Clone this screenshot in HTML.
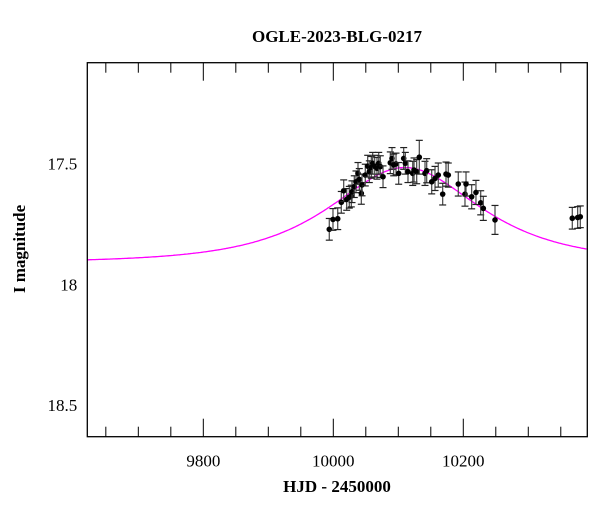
<!DOCTYPE html>
<html><head><meta charset="utf-8"><style>
body{margin:0;background:#fff}
svg{display:block}
text{font-family:"Liberation Serif",serif;fill:#000}
</style></head><body>
<svg id="chart" width="600" height="512" xmlns="http://www.w3.org/2000/svg">
<rect width="600" height="512" fill="#fff"/>
<text x="337" y="42" text-anchor="middle" font-size="17" font-weight="bold">OGLE-2023-BLG-0217</text>
<text x="337" y="492" text-anchor="middle" font-size="17" font-weight="bold">HJD - 2450000</text>
<text transform="translate(25,249) rotate(-90)" text-anchor="middle" font-size="17" font-weight="bold">I magnitude</text>
<g id="ticks"></g>
<g id="model"></g>
<g id="pts"></g>
<rect x="87.3" y="62.7" width="500" height="374" fill="none" stroke="#000" stroke-width="1.3"/>
</svg>
<script>
const hjd=[9993.8,9999.5,10006.8,10012.3,10016,10020.6,10024.6,10027.7,10028.8,10032.3,10034.9,10038,10040,10043.1,10044.2,10049.2,10052.9,10055.4,10058.5,10060.6,10063.7,10067.2,10069.9,10072.3,10076.5,10087.7,10090.3,10092.9,10096.5,10100.6,10108.3,10110.8,10114.9,10122.2,10124.2,10128.3,10132.3,10141.1,10143.7,10151.4,10156.5,10161.5,10168.3,10173.4,10176.9,10192.3,10202.6,10204.2,10212.9,10219.5,10226.8,10230.8,10248.8,10367.7,10376,10380];
const mag=[17.772,17.731,17.728,17.660,17.612,17.648,17.639,17.634,17.616,17.595,17.575,17.540,17.565,17.623,17.588,17.547,17.510,17.533,17.515,17.498,17.510,17.519,17.498,17.512,17.554,17.496,17.478,17.505,17.501,17.540,17.478,17.498,17.533,17.540,17.526,17.533,17.473,17.540,17.529,17.575,17.561,17.547,17.626,17.543,17.547,17.584,17.626,17.584,17.637,17.619,17.662,17.685,17.733,17.726,17.723,17.720];
const err=[0.045,0.045,0.045,0.045,0.045,0.045,0.045,0.045,0.045,0.045,0.045,0.045,0.045,0.045,0.045,0.045,0.045,0.045,0.045,0.045,0.045,0.045,0.045,0.045,0.045,0.045,0.045,0.045,0.045,0.045,0.045,0.045,0.045,0.05,0.05,0.05,0.07,0.05,0.05,0.05,0.05,0.05,0.045,0.05,0.05,0.05,0.05,0.05,0.05,0.05,0.05,0.05,0.06,0.045,0.045,0.045];
const modelT0=[10110];const modelU0=[0.885];const modelTE=[147.6];const modelBase=[17.91];
const xTicks=[9800,10000,10200];const yTicks=[17.5,18,18.5];
const X0=87.3,X1=587.3,Y0=62.7,Y1=436.7,xmin=9621.5,xmax=10390.8,ymin=17.081,ymax=18.632;
const sx=t=>X0+(t-xmin)/(xmax-xmin)*(X1-X0);
const sy=m=>Y0+(m-ymin)/(ymax-ymin)*(Y1-Y0);
const NS='http://www.w3.org/2000/svg';
function mk(tag,attrs,parent){const e=document.createElementNS(NS,tag);for(const k in attrs)e.setAttribute(k,attrs[k]);parent.appendChild(e);return e;}
const tg=document.getElementById('ticks');
for(let t=9650;t<=10390;t+=50){const x=sx(t);const maj=t%200===0;const L=maj?18:10;
 const a=mk('line',{x1:x,y1:Y1,x2:x,y2:Y1-L,stroke:'#000','stroke-width':1},tg);
 
 const b=mk('line',{x1:x,y1:Y0,x2:x,y2:Y0+L,stroke:'#000','stroke-width':1},tg);
 }
xTicks.forEach(t=>{const e=mk('text',{x:sx(t),y:Y1+30,'text-anchor':'middle','font-size':17},tg);e.textContent=t;
 });
for(let i=11;i<=36;i++){const m=i/20;if(m<ymin||m>ymax)continue;const y=sy(m);const maj=i%10===0||i%10===5&&false;const isMaj=Math.abs(m*2-Math.round(m*2))<1e-6;const L=isMaj?20:10;
 const a=mk('line',{x1:X0,y1:y,x2:X0+L,y2:y,stroke:'#000','stroke-width':1},tg);
 
 const b=mk('line',{x1:X1,y1:y,x2:X1-L,y2:y,stroke:'#000','stroke-width':1},tg);
 }
yTicks.forEach(m=>{const e=mk('text',{x:X0-10,y:sy(m)+6,'text-anchor':'end','font-size':17},tg);e.textContent=m;
 });
// model
let d='';for(let t=xmin;t<=xmax;t+=2){const u=Math.sqrt(modelU0[0]**2+((t-modelT0[0])/modelTE[0])**2);const A=(u*u+2)/(u*Math.sqrt(u*u+4));const m=modelBase[0]-2.5*Math.log10(A);d+=(d?'L':'M')+sx(t).toFixed(1)+','+sy(m).toFixed(1);}
const mp=mk('path',{d:d,fill:'none',stroke:'#ff00ff','stroke-width':1.3},document.getElementById('model'));

const pg=document.getElementById('pts');
hjd.forEach((t,i)=>{const x=sx(t),y=sy(mag[i]),ya=sy(mag[i]-err[i]),yb=sy(mag[i]+err[i]);
 const g=mk('g',{},pg);
 mk('line',{x1:x,y1:ya,x2:x,y2:yb,stroke:'#444','stroke-width':1.2},g);
 mk('line',{x1:x-3.5,y1:ya,x2:x+3.5,y2:ya,stroke:'#222','stroke-width':1.2},g);
 mk('line',{x1:x-3.5,y1:yb,x2:x+3.5,y2:yb,stroke:'#222','stroke-width':1.2},g);
 mk('circle',{cx:x,cy:y,r:2.8,fill:'#000'},g);});
</script>
</body></html>
